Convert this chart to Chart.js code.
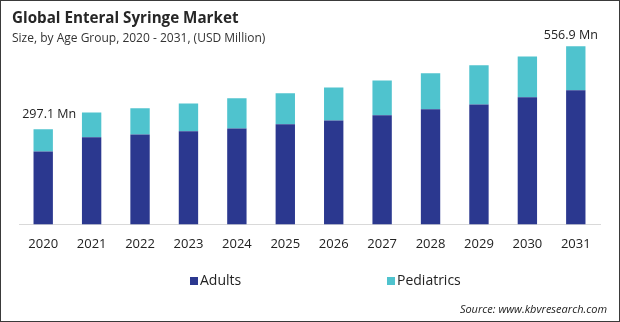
<!DOCTYPE html>
<html>
<head>
<meta charset="utf-8">
<style>
  html, body { margin: 0; padding: 0; background: #fff; }
  #wrap { width: 620px; height: 322px; position: relative; }
</style>
<script src="https://cdn.jsdelivr.net/npm/chart.js@4/dist/chart.umd.min.js"></script>
</head>
<body>
<div id="wrap"><canvas id="chart" width="620" height="322"></canvas></div>
<script>
// data (USD Million)
const years = ['2020', '2021', '2022', '2023', '2024', '2025', '2026', '2027', '2028', '2029', '2030', '2031'];
const adults = [228, 272, 281, 291, 300, 313, 325, 341, 360, 375, 397, 419];
const pediatrics = [69.1, 78, 82, 87, 94, 97, 103, 109, 112, 122, 128, 137.9];
const seriesNames = ['Adults', 'Pediatrics'];
const seriesColors = ['#2b388f', '#4fc3ce'];
const firstLabel = '297.1 Mn';
const lastLabel = '556.9 Mn';

const FONT = '"Open Sans", "Noto Sans", sans-serif';

// titles, value notes, legend, source and frame
const decorations = {
  id: 'decorations',
  afterDraw(chart) {
    const ctx = chart.ctx;
    ctx.save();

    ctx.fillStyle = '#262626';
    ctx.textAlign = 'left';
    ctx.textBaseline = 'alphabetic';
    ctx.font = 'bold 15.2px ' + FONT;
    ctx.fillText('Global Enteral Syringe Market', 12, 23);
    ctx.font = '12px ' + FONT;
    ctx.fillStyle = '#333';
    ctx.fillText('Size, by Age Group, 2020 - 2031, (USD Million)', 12, 42);

    // value notes above first and last bars
    const top = chart.getDatasetMeta(1).data;
    ctx.font = '12.5px ' + FONT;
    ctx.fillStyle = '#222';
    ctx.textAlign = 'center';
    ctx.textBaseline = 'middle';
    const b0 = top[0];
    const bN = top[top.length - 1];
    ctx.fillText(firstLabel, b0.x + 6, b0.y - 15);
    ctx.fillText(lastLabel, bN.x - 5, bN.y - 11);

    // legend
    const legendX = [190, 387];
    ctx.font = '14px ' + FONT;
    ctx.textAlign = 'left';
    chart.data.datasets.forEach((ds, i) => {
      ctx.fillStyle = ds.backgroundColor;
      ctx.fillRect(legendX[i], 277, 8, 8);
      ctx.fillStyle = '#222';
      ctx.fillText(ds.label, legendX[i] + 10, 281);
    });

    // source
    ctx.font = 'italic 11px ' + FONT;
    ctx.textAlign = 'right';
    ctx.fillStyle = '#222';
    ctx.fillText('Source: www.kbvresearch.com', 607, 310);

    // frame
    ctx.strokeStyle = '#3a3a3a';
    ctx.lineWidth = 1;
    ctx.strokeRect(0.5, 0.5, chart.width - 1, chart.height - 1);
    ctx.restore();
  }
};

const chart = new Chart(document.getElementById('chart'), {
  type: 'bar',
  data: {
    labels: years,
    datasets: [
      { label: seriesNames[0], data: adults, backgroundColor: seriesColors[0] },
      { label: seriesNames[1], data: pediatrics, backgroundColor: seriesColors[1] }
    ]
  },
  options: {
    responsive: false,
    animation: false,
    layout: { padding: { left: 19, right: 20, top: 26, bottom: 58 } },
    datasets: {
      bar: { barPercentage: 0.4, categoryPercentage: 1.0 }
    },
    plugins: {
      legend: { display: false },
      title: { display: false },
      tooltip: { enabled: false }
    },
    scales: {
      x: {
        stacked: true,
        grid: { display: false, drawTicks: false },
        border: { display: true, color: '#d9d9d9', width: 1 },
        ticks: { color: '#222', font: { family: FONT, size: 13 }, padding: 12 }
      },
      y: {
        stacked: true,
        display: false,
        min: 0,
        max: 620
      }
    }
  },
  plugins: [decorations]
});
</script>
</body>
</html>
